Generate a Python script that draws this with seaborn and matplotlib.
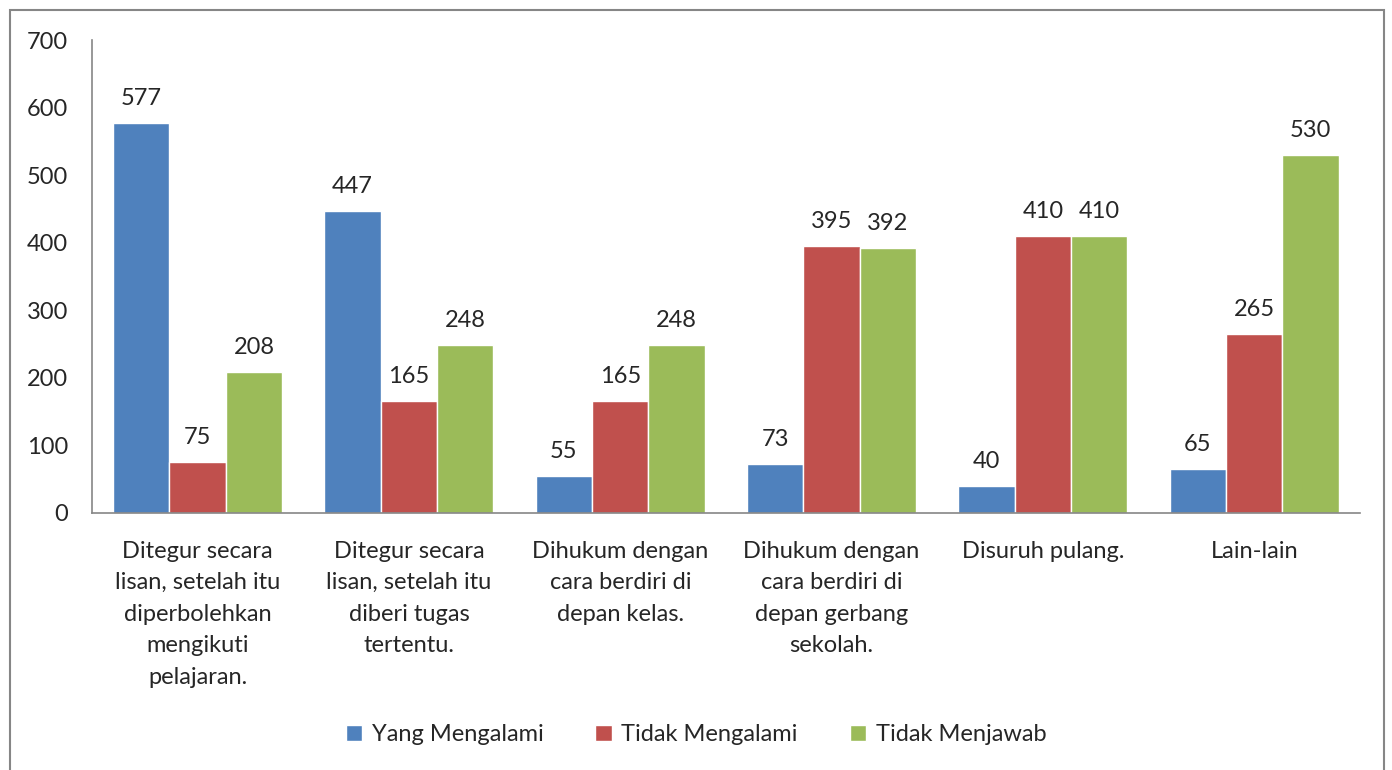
import pandas as pd
import seaborn as sns
import matplotlib.pyplot as plt
from matplotlib.patches import Rectangle

# Chart data
categories = [
    "Ditegur secara\nlisan, setelah itu\ndiperbolehkan\nmengikuti\npelajaran.",
    "Ditegur secara\nlisan, setelah itu\ndiberi tugas\ntertentu.",
    "Dihukum dengan\ncara berdiri di\ndepan kelas.",
    "Dihukum dengan\ncara berdiri di\ndepan gerbang\nsekolah.",
    "Disuruh pulang.",
    "Lain-lain",
]
series = ["Yang Mengalami", "Tidak Mengalami", "Tidak Menjawab"]
yang_mengalami = [577, 447, 55, 73, 40, 65]
tidak_mengalami = [75, 165, 165, 395, 410, 265]
tidak_menjawab = [208, 248, 248, 392, 410, 530]
colors = ["#4F81BD", "#C0504D", "#9BBB59"]

# Long format table for seaborn
rows = []
for name, vals in zip(series, [yang_mengalami, tidak_mengalami, tidak_menjawab]):
    for cat, v in zip(categories, vals):
        rows.append({"Kategori": cat, "Seri": name, "Jumlah": v})
df = pd.DataFrame(rows)

sns.set_style("white")
plt.rcParams["font.family"] = ["Lato", "DejaVu Sans"]
plt.rcParams["font.size"] = 17

fig = plt.figure(figsize=(13.92, 7.70), dpi=100)
ax = fig.add_axes([0.066, 0.334, 0.911, 0.614])

sns.barplot(
    data=df,
    x="Kategori",
    y="Jumlah",
    hue="Seri",
    palette=colors,
    width=0.8,
    saturation=1,
    ax=ax,
)

for cont in ax.containers:
    ax.bar_label(cont, padding=10, fontsize=17)

ax.set_ylim(0, 700)
ax.set_yticks(range(0, 701, 100))
ax.set_xlabel("")
ax.set_ylabel("")
ax.tick_params(axis="both", length=0, labelsize=17)
ax.tick_params(axis="y", pad=17)
ax.tick_params(axis="x", pad=20)
for lbl in ax.get_xticklabels():
    lbl.set_linespacing(1.62)
    lbl.set_va("top")

for side in ["top", "right"]:
    ax.spines[side].set_visible(False)
for side in ["left", "bottom"]:
    ax.spines[side].set_color("#868686")
    ax.spines[side].set_linewidth(1.2)

ax.legend_.remove()
handles, labels = ax.get_legend_handles_labels()
fig.legend(
    handles[:3], labels[:3],
    loc="center", bbox_to_anchor=(0.5, 0.046),
    ncol=3, frameon=False, fontsize=17,
    handlelength=0.7, handleheight=0.7,
    handletextpad=0.4, columnspacing=2.2,
)

# Outer chart frame
fig.patches.append(Rectangle(
    (10 / 1392, -0.05), 1374 / 1392, 1.05 - 10 / 770,
    transform=fig.transFigure, fill=False,
    edgecolor="#868686", linewidth=1.5,
))

fig.savefig("out.png", dpi=100)
